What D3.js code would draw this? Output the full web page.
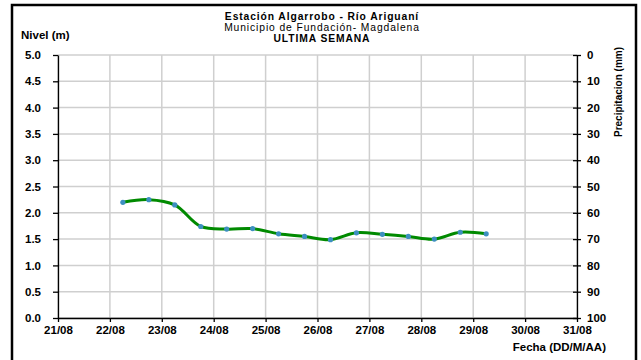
<!DOCTYPE html>
<html><head><meta charset="utf-8">
<script src="https://cdn.jsdelivr.net/npm/d3@7"></script>
<style>
html,body{margin:0;padding:0;background:#fff;}
svg{display:block;font-family:"Liberation Sans",Arial,sans-serif;}
</style></head>
<body>
<script>
// ---- data ----
const times = ["2023-08-22T06:00","2023-08-22T18:00","2023-08-23T06:00","2023-08-23T18:00","2023-08-24T06:00","2023-08-24T18:00","2023-08-25T06:00","2023-08-25T18:00","2023-08-26T06:00","2023-08-26T18:00","2023-08-27T06:00","2023-08-27T18:00","2023-08-28T06:00","2023-08-28T18:00","2023-08-29T06:00"];
const levels = [2.20, 2.25, 2.15, 1.74, 1.69, 1.70, 1.60, 1.55, 1.49, 1.62, 1.59, 1.55, 1.50, 1.63, 1.60];
const xDomain = ["2023-08-21T00:00","2023-08-31T00:00"];
const levelTicks = [0,0.5,1,1.5,2,2.5,3,3.5,4,4.5,5];
const precipTicks = [0,10,20,30,40,50,60,70,80,90,100];
const titles = ["Estación Algarrobo - Río Ariguaní","Municipio de Fundación- Magdalena","ULTIMA SEMANA"];
const yLabelLeft = "Nivel (m)";
const yLabelRight = "Precipitacion (mm)";
const xLabel = "Fecha (DD/M/AA)";

const W = 641, H = 360;
const m = {left:58, right:W-577, top:55, bottom:H-318};
const parse = d3.isoParse;
const svg = d3.select("body").append("svg").attr("width",W).attr("height",H);

// outer frame
svg.append("rect").attr("x",12).attr("y",5).attr("width",624).attr("height",370)
  .attr("fill","none").attr("stroke","#000").attr("stroke-width",2.5);

const x = d3.scaleTime().domain(xDomain.map(parse)).range([m.left, W-m.right]);
const y = d3.scaleLinear().domain([0,5]).range([H-m.bottom, m.top]);
const y2 = d3.scaleLinear().domain([100,0]).range([H-m.bottom, m.top]);
const dayTicks = d3.timeDay.range(parse(xDomain[0]), d3.timeDay.offset(parse(xDomain[1]),1));

// grid
const grid = svg.append("g").attr("stroke","#cfcfcf").attr("stroke-width",1.5);
grid.selectAll("line.h").data(levelTicks).join("line")
  .attr("x1",m.left).attr("x2",W-m.right).attr("y1",d=>y(d)).attr("y2",d=>y(d));
grid.selectAll("line.v").data(dayTicks).join("line")
  .attr("x1",d=>x(d)).attr("x2",d=>x(d)).attr("y1",m.top).attr("y2",H-m.bottom);

// axes
const fmt = d3.timeFormat("%d/%m");
const axStyle = g => {
  g.selectAll("text").attr("font-size",11.5).attr("font-weight","bold").attr("fill","#000");
  g.selectAll("line,path").attr("stroke","#000").attr("stroke-width",1.3);
};
svg.append("g").attr("transform",`translate(${m.left},0)`)
  .call(d3.axisLeft(y).tickValues(levelTicks).tickFormat(d3.format(".1f")).tickSize(5).tickPadding(12).tickSizeOuter(0))
  .call(axStyle);
const rAx = svg.append("g").attr("transform",`translate(${W-m.right},0)`)
  .call(d3.axisRight(y2).tickValues(precipTicks).tickSize(4).tickPadding(6).tickSizeOuter(0))
  .call(axStyle);
rAx.selectAll(".tick line").attr("x1",-4);
svg.append("g").attr("transform",`translate(0,${H-m.bottom})`)
  .call(d3.axisBottom(x).tickValues(dayTicks).tickFormat(fmt).tickSize(4).tickPadding(4).tickSizeOuter(0))
  .call(axStyle);

// line
const pts = times.map((t,i)=>({t:parse(t), v:levels[i]}));
svg.append("path").datum(pts)
  .attr("d", d3.line().x(d=>x(d.t)).y(d=>y(d.v)).curve(d3.curveCatmullRom.alpha(0.5)))
  .attr("fill","none").attr("stroke","#008a00").attr("stroke-width",3);
svg.selectAll("circle.p").data(pts).join("circle")
  .attr("cx",d=>x(d.t)).attr("cy",d=>y(d.v)).attr("r",2.6)
  .attr("fill","#3d8fc0");

// titles
const tg = svg.append("g").attr("text-anchor","middle").attr("fill","#000")
  .attr("font-size",10.3).attr("letter-spacing",0.9);
tg.append("text").attr("x",322).attr("y",19.5).attr("font-weight","bold").text(titles[0]);
tg.append("text").attr("x",322).attr("y",30.5).text(titles[1]);
tg.append("text").attr("x",322).attr("y",41.5).attr("font-weight","bold").text(titles[2]);

svg.append("text").attr("x",21).attr("y",39).attr("font-size",11.5).attr("font-weight","bold").text(yLabelLeft);
svg.append("text").attr("transform","translate(622,92) rotate(-90)").attr("text-anchor","middle")
  .attr("font-size",10).attr("font-weight","bold").text(yLabelRight);
svg.append("text").attr("x",606).attr("y",351).attr("text-anchor","end").attr("font-size",11.5).attr("font-weight","bold").text(xLabel);
</script>
</body></html>
